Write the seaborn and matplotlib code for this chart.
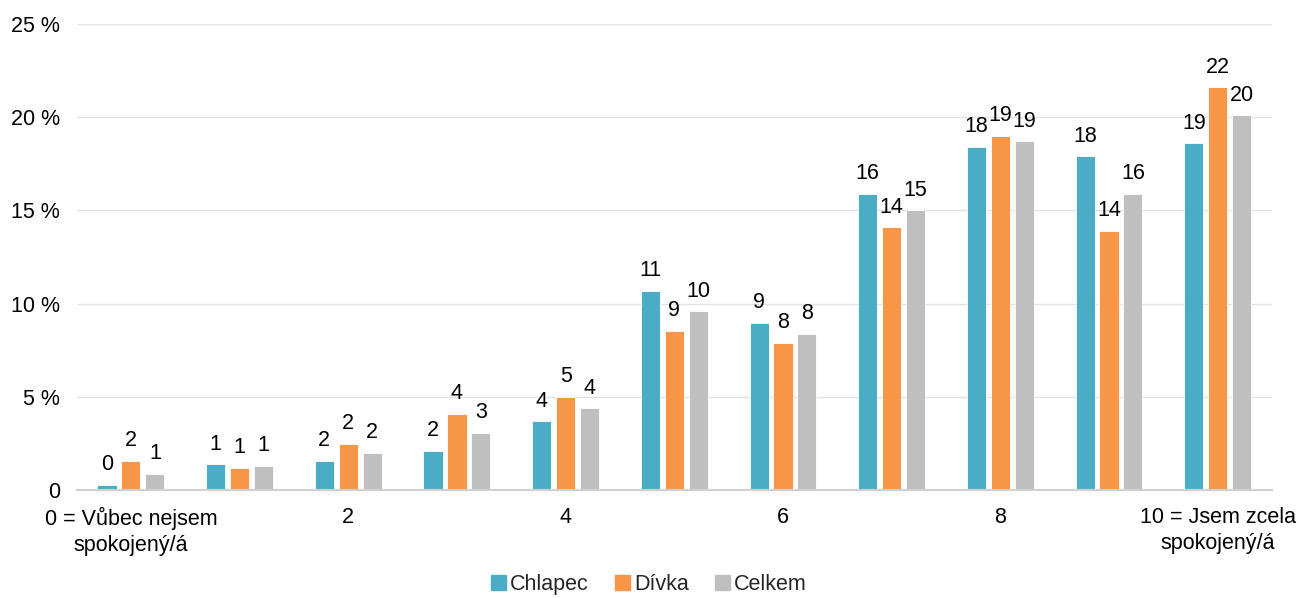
import numpy as np
import pandas as pd
import matplotlib
matplotlib.use('Agg')
import matplotlib.pyplot as plt
import seaborn as sns

# 数据
categories = [str(i) for i in range(11)]
tick_labels = ['0 = Vůbec nejsem\nspokojený/á', '', '2', '', '4', '', '6', '', '8', '',
               '10 = Jsem zcela\nspokojený/á']
chlapec = [0.3, 1.4, 1.6, 2.1, 3.7, 10.7, 8.96, 15.9, 18.4, 17.9, 18.6]
divka = [1.6, 1.2, 2.5, 4.1, 5.0, 8.55, 7.9, 14.1, 19.0, 13.9, 21.6]
celkem = [0.9, 1.3, 2.0, 3.1, 4.4, 9.6, 8.4, 15.0, 18.7, 15.9, 20.1]
series_names = ['Chlapec', 'Dívka', 'Celkem']
colors = ['#4BACC6', '#F79646', '#BFBFBF']

df = pd.DataFrame({
    'kategorie': categories * 3,
    'hodnota': chlapec + divka + celkem,
    'skupina': [s for s in series_names for _ in categories],
})

sns.set_theme(style='white')
plt.rcParams['font.family'] = ['Liberation Sans', 'DejaVu Sans']
fs = 15.5

fig, ax = plt.subplots(figsize=(12.98, 5.98), dpi=100)
fig.subplots_adjust(left=0.059, right=0.98, top=0.96, bottom=0.18)

sns.barplot(data=df, x='kategorie', y='hodnota', hue='skupina',
            palette=colors, saturation=1, width=0.66, gap=0.2, ax=ax,
            edgecolor='white', linewidth=0.6, legend=False)

# 数据标签
for cont in ax.containers:
    ax.bar_label(cont, labels=[f'{v:.0f}' for v in cont.datavalues],
                 padding=7, fontsize=fs, color='#000000')

ax.set_ylim(0, 25)
ax.set_yticks([0, 5, 10, 15, 20, 25])
ax.set_yticklabels(['0', '5 %', '10 %', '15 %', '20 %', '25 %'], fontsize=fs)
ax.set_xlim(-0.5, 10.5)
ax.set_xticks(range(11))
ax.set_xticklabels(tick_labels, fontsize=fs, linespacing=1.3)
ax.set_xlabel('')
ax.set_ylabel('')
ax.tick_params(axis='x', length=0, pad=12, colors='#000000')
ax.tick_params(axis='y', length=0, pad=12, colors='#000000')

ax.yaxis.grid(True, color='#E3E3E3', linewidth=1)
ax.set_axisbelow(True)
for side in ['top', 'right', 'left']:
    ax.spines[side].set_visible(False)
ax.spines['bottom'].set_color('#D0D0D0')
ax.spines['bottom'].set_linewidth(1.5)

handles = [plt.Rectangle((0, 0), 1, 1, color=c) for c in colors]
fig.legend(handles, series_names, loc='lower center', ncol=3, frameon=False,
           fontsize=fs, handlelength=0.7, handleheight=0.7, handletextpad=0.2,
           columnspacing=1.2, bbox_to_anchor=(0.5, -0.028))

plt.savefig('out.png', dpi=100)
